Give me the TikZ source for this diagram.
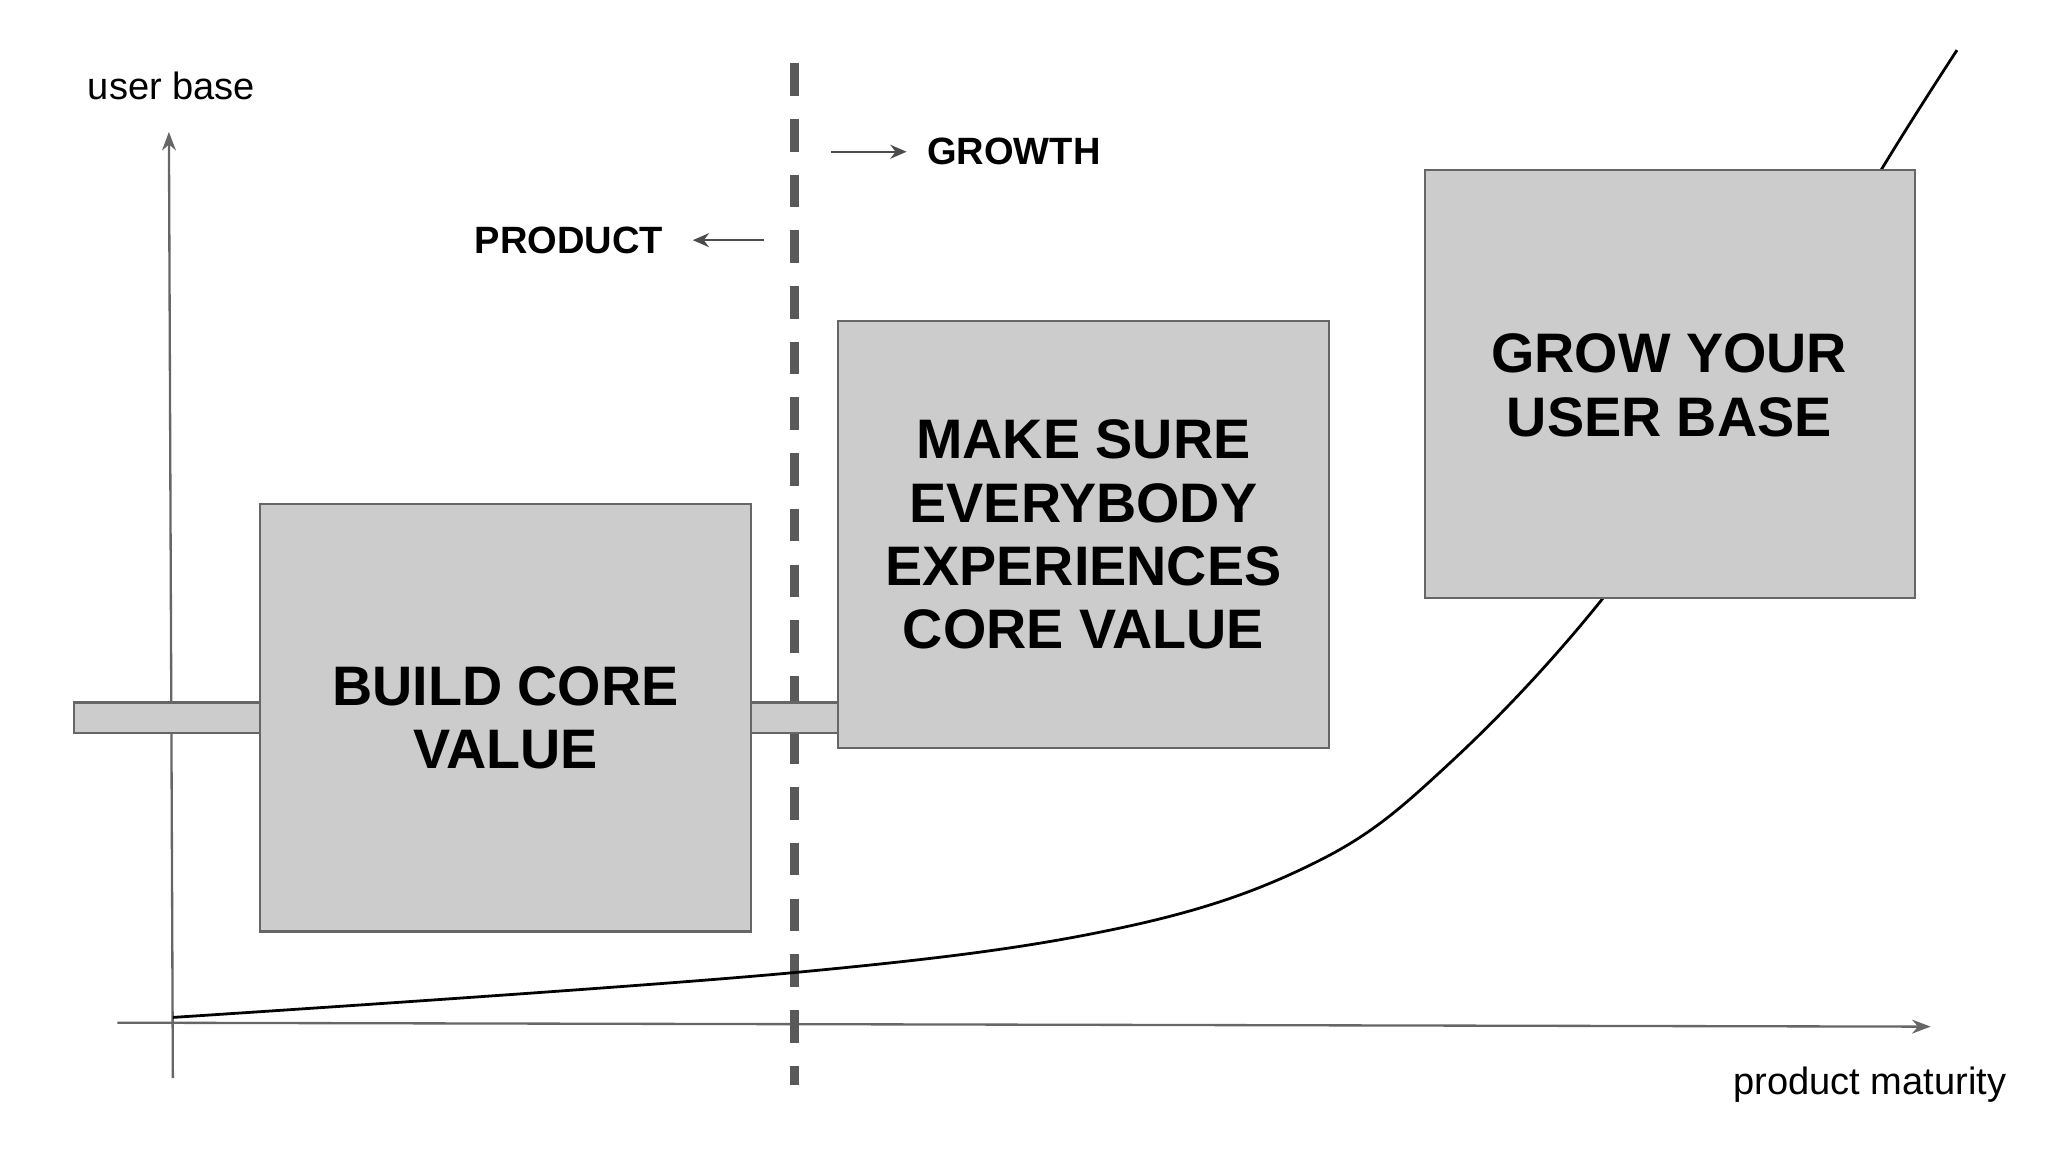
\documentclass[tikz,border=0pt]{standalone}
\usepackage{fontspec}
\setmainfont{Liberation Sans}
\usetikzlibrary{arrows.meta}
\begin{document}
\begin{tikzpicture}[x=0.01cm,y=-0.01cm,
  box/.style={draw=black!60,fill=black!20,line width=0.5pt},
  big/.style={font=\bfseries\fontsize{12}{13.6}\selectfont,align=center},
  lab/.style={font=\fontsize{8.2}{10}\selectfont},
  blab/.style={font=\bfseries\fontsize{8.2}{10}\selectfont},
  ax/.style={draw=black!60,line width=0.5pt,-{Stealth[length=4pt,width=3pt]}},
  sarr/.style={draw=black!70,line width=0.5pt,-{Stealth[length=3.5pt,width=3pt]}}]
\useasboundingbox (0,0) rectangle (1552,873);
\coordinate (ya) at (131,817); \coordinate (yb) at (128,100);
\coordinate (xa) at (89,775); \coordinate (xb) at (1463,778);
\draw[ax] (ya) -- (yb);
\draw[ax] (xa) -- (xb);
\coordinate (da) at (602,48); \coordinate (db) at (602,822);
\draw[black!65,line width=1.8pt,dash pattern=on 7pt off 5pt] (da) -- (db);
\draw[line width=0.6pt] plot[smooth,tension=0.6] coordinates {(131,771) (602,737) (850,703) (1000,652) (1100,577) (1215,453) (1330,290) (1426,128) (1483,38)};
\node[box,minimum width=372\pgflinewidth] (b1) at (383,544) {};
\path[box] (197,382) rectangle (569,706);
\path[box] (635,243) rectangle (1007,567);
\path[box] (1080,129) rectangle (1451,453);
\node[big] (t1) at (383,544) {BUILD CORE\\VALUE};
\node[big] (t2) at (821,405) {MAKE SURE\\EVERYBODY\\EXPERIENCES\\CORE VALUE};
\node[big] (t3) at (1265,292) {GROW YOUR\\USER BASE};
\node[lab] (ub) at (130,65) {user base};
\node[lab] (pm) at (1417,822) {product maturity};
\node[blab,anchor=west,inner sep=0] (gr) at (702,115) {GROWTH};
\coordinate (ga) at (630,115); \coordinate (gb) at (687,115);
\draw[sarr] (ga) -- (gb);
\node[blab,anchor=east,inner sep=0] (pr) at (503,182) {PRODUCT};
\coordinate (pa) at (579,182); \coordinate (pb) at (525,182);
\draw[sarr] (pa) -- (pb);
\end{tikzpicture}
\end{document}
